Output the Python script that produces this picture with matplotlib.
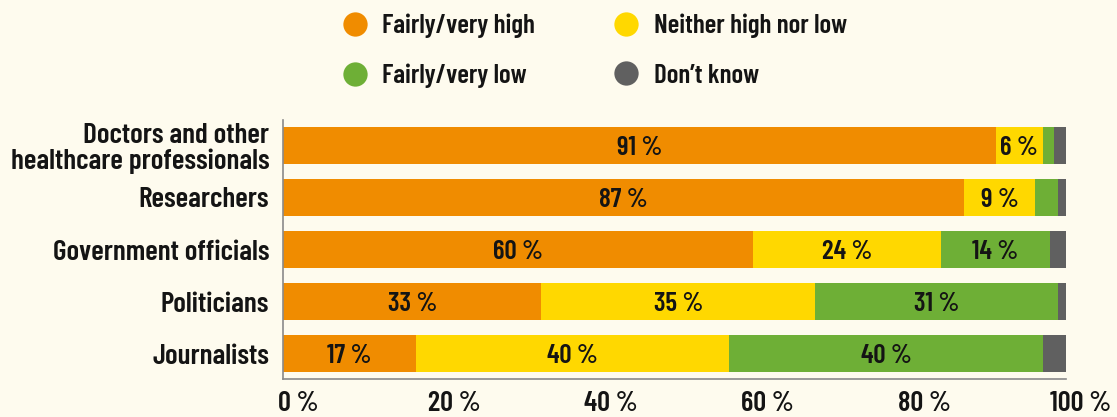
import numpy as np
import matplotlib.pyplot as plt
from matplotlib.lines import Line2D
from matplotlib.transforms import ScaledTranslation

plt.rcParams['font.family'] = ['Barlow Condensed', 'DejaVu Sans']
plt.rcParams['font.weight'] = 600

groups = ['Doctors and other\nhealthcare professionals', 'Researchers',
          'Government officials', 'Politicians', 'Journalists']
high = [91, 87, 60, 33, 17]
neither = [6, 9, 24, 35, 40]
low = [1.5, 3, 14, 31, 40]
dont_know = [1.5, 1, 2, 1, 3]

series = ['Fairly/very high', 'Neither high nor low', 'Fairly/very low', 'Don\u2019t know']
colors = ['#F08C00', '#FFD800', '#6EAF36', '#606060']
xticks = [0, 20, 40, 60, 80, 100]

bg = '#FEFBEE'
ink = '#141414'

fig = plt.figure(figsize=(11.17, 4.17), dpi=100, facecolor=bg)
ax = fig.add_axes([0.2534, 0.0911, 0.701, 0.6211], facecolor=bg)

y = np.arange(len(groups))
left = np.zeros(len(groups))
for vals, col in zip([high, neither, low, dont_know], colors):
    vals = np.array(vals, dtype=float)
    ax.barh(y, vals, left=left, height=0.715, color=col, edgecolor='none')
    if col != colors[-1]:
        for yi, l, v in zip(y, left, vals):
            if v >= 5:
                ax.text(l + v / 2, yi, f'{v:g}\u2009%', ha='center',
                        va='center_baseline', fontsize=19.5, color=ink)
    left += vals

ax.set_xlim(0, 100)
ax.set_ylim(len(groups) - 0.514, -0.486)
ax.set_yticks(y, groups, fontsize=21, color=ink, linespacing=1.05)
ax.set_xticks(xticks, [f'{t} %' for t in xticks], fontsize=20.5, color=ink)
ax.tick_params(length=0)
ax.tick_params(axis='y', pad=10)
ax.tick_params(axis='x', pad=8.5)
shift = ScaledTranslation(15 / 100, 0, fig.dpi_scale_trans)
for lab in ax.get_xticklabels():
    lab.set_transform(lab.get_transform() + shift)

for s in ['top', 'right']:
    ax.spines[s].set_visible(False)
for s in ['left', 'bottom']:
    ax.spines[s].set_color('#8a8a8a')
    ax.spines[s].set_linewidth(1.2)

# legend fills column by column, so order entries to read across rows
order = [0, 2, 1, 3]
handles = [Line2D([], [], linestyle='none', marker='o', markersize=17.5,
                  markerfacecolor=colors[i], markeredgecolor='none') for i in order]
fig.legend(handles, [series[i] for i in order], ncol=2, loc='upper left',
           bbox_to_anchor=(0.2836, 1.026), frameon=False, fontsize=19.5,
           labelcolor=ink, handlelength=1.0, handletextpad=0.5,
           columnspacing=2.89, labelspacing=0.95)

fig.savefig('out.png', dpi=100, facecolor=bg)
